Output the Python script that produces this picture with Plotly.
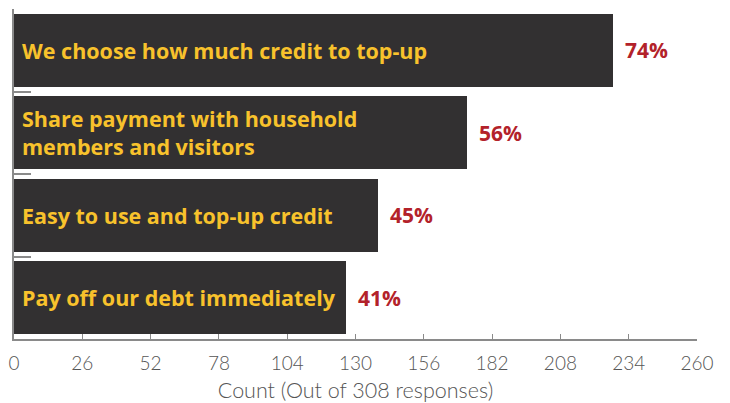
import plotly.graph_objects as go

# Survey reasons, shares of respondents, and the axis tick values
categories = [
    "We choose how much credit to top-up",
    "Share payment with household<br>members and visitors",
    "Easy to use and top-up credit",
    "Pay off our debt immediately",
]
percents = [74, 56, 45, 41]
total_responses = 308
tick_values = [0, 26, 52, 78, 104, 130, 156, 182, 208, 234, 260]

counts = [p / 100 * total_responses for p in percents]
positions = list(range(len(categories)))

BAR = "#323031"
YELLOW = "#F8C22C"
RED = "#B3222A"
GREY = "#8a8a8a"
TEXT = "#555555"

fig = go.Figure(
    go.Bar(
        x=counts,
        y=positions,
        orientation="h",
        width=0.88,
        marker=dict(color=BAR, line=dict(width=0)),
        hoverinfo="skip",
    )
)

for pos, label, count, pct in zip(positions, categories, counts, percents):
    fig.add_annotation(
        x=0, y=pos, xref="x", yref="y", text=label,
        xanchor="left", yanchor="middle", xshift=6, showarrow=False,
        align="left",
        font=dict(family="Open Sans", size=21.5, color=YELLOW, weight=700),
    )
    fig.add_annotation(
        x=count, y=pos, xref="x", yref="y", text=f"{pct}%",
        xanchor="left", yanchor="middle", xshift=10, showarrow=False,
        font=dict(family="Open Sans", size=21, color=RED, weight=700),
    )

fig.update_layout(
    width=730,
    height=403,
    margin=dict(l=14, r=33, t=9, b=64, autoexpand=False),
    paper_bgcolor="white",
    plot_bgcolor="white",
    showlegend=False,
    bargap=0,
)

fig.update_xaxes(
    range=[0, 260],
    automargin=False,
    tickvals=tick_values,
    ticks="inside",
    ticklen=5,
    tickcolor=GREY,
    showline=True,
    linecolor=GREY,
    linewidth=1.5,
    showgrid=False,
    zeroline=False,
    ticklabelstandoff=6,
    tickfont=dict(family="Lato", size=19, color=TEXT, weight=300),
    title=dict(text="Count (Out of 308 responses)",
               font=dict(family="Lato", size=21.5, color=TEXT, weight=300),
               standoff=15),
)

fig.update_yaxes(
    range=[len(categories) - 0.5, -0.5],
    automargin=False,
    tickvals=[p - 0.5 for p in positions] + [len(categories) - 0.5],
    ticktext=[""] * (len(categories) + 1),
    ticks="inside",
    ticklen=17,
    tickcolor=GREY,
    tickwidth=1.5,
    showline=True,
    linecolor=GREY,
    linewidth=1.5,
    showgrid=False,
    zeroline=False,
    showticklabels=False,
)

fig.write_html("out.html")
